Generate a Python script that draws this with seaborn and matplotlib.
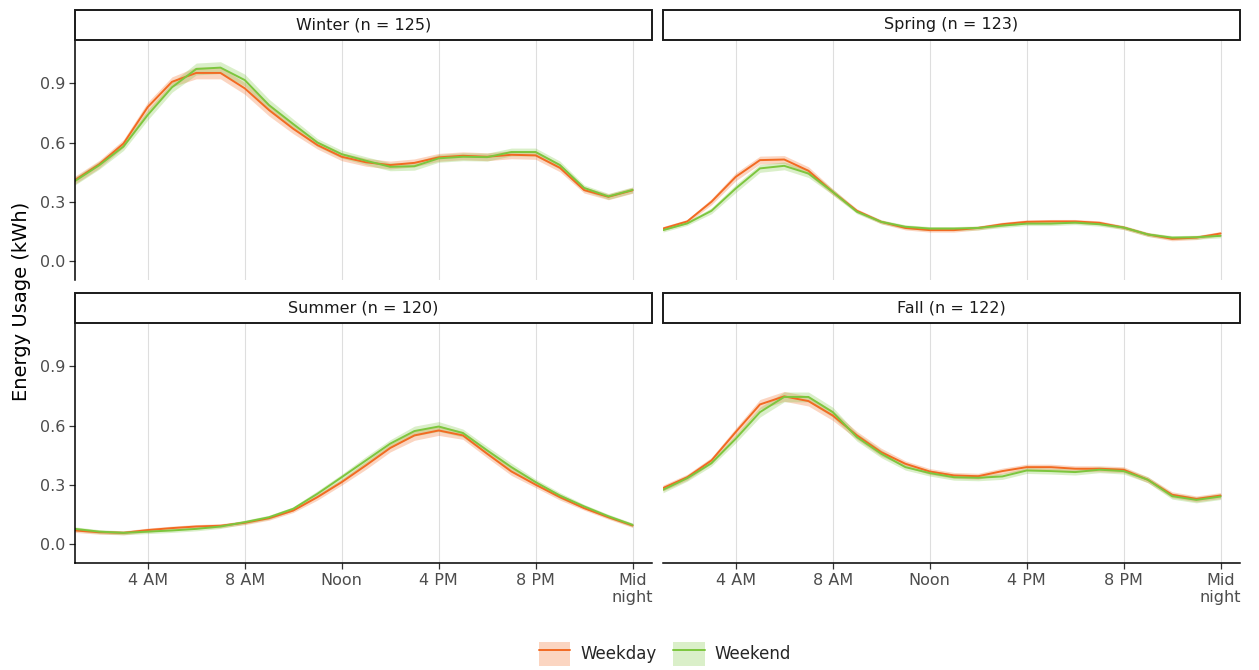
import numpy as np
import pandas as pd
import seaborn as sns
import matplotlib
matplotlib.use("Agg")
import matplotlib.pyplot as plt
from matplotlib.patches import Patch, Rectangle
from matplotlib.lines import Line2D
from matplotlib.legend_handler import HandlerTuple

# ---------------- data ----------------
hours = list(range(1, 25))
seasons = ["Winter", "Spring", "Summer", "Fall"]
season_n = [125, 123, 120, 122]
daytypes = ["Weekday", "Weekend"]

winter_weekday = [0.41, 0.49, 0.595, 0.78, 0.908, 0.953, 0.953, 0.875, 0.765, 0.67, 0.587, 0.528,
                  0.50, 0.486, 0.497, 0.525, 0.533, 0.528, 0.538, 0.535, 0.472, 0.359, 0.325, 0.358]
winter_weekend = [0.405, 0.485, 0.58, 0.74, 0.88, 0.973, 0.98, 0.917, 0.79, 0.694, 0.60, 0.541,
                  0.508, 0.477, 0.48, 0.52, 0.528, 0.526, 0.552, 0.552, 0.486, 0.37, 0.327, 0.36]
spring_weekday = [0.164, 0.20, 0.30, 0.426, 0.511, 0.514, 0.457, 0.35, 0.254, 0.198, 0.167, 0.156,
                  0.156, 0.167, 0.186, 0.198, 0.20, 0.20, 0.193, 0.169, 0.134, 0.112, 0.118, 0.139]
spring_weekend = [0.156, 0.19, 0.254, 0.367, 0.469, 0.482, 0.443, 0.35, 0.249, 0.198, 0.173, 0.164,
                  0.164, 0.167, 0.179, 0.189, 0.189, 0.194, 0.186, 0.169, 0.134, 0.118, 0.12, 0.127]
summer_weekday = [0.068, 0.059, 0.056, 0.07, 0.08, 0.088, 0.092, 0.107, 0.13, 0.169, 0.237, 0.313,
                  0.398, 0.486, 0.55, 0.575, 0.55, 0.457, 0.367, 0.30, 0.237, 0.181, 0.135, 0.093]
summer_weekend = [0.076, 0.062, 0.056, 0.062, 0.068, 0.076, 0.088, 0.11, 0.135, 0.178, 0.254, 0.338,
                  0.423, 0.508, 0.572, 0.595, 0.562, 0.474, 0.389, 0.313, 0.245, 0.19, 0.14, 0.096]
fall_weekday = [0.283, 0.338, 0.423, 0.567, 0.707, 0.748, 0.724, 0.651, 0.55, 0.465, 0.406, 0.367,
                0.347, 0.343, 0.369, 0.389, 0.389, 0.381, 0.381, 0.376, 0.325, 0.249, 0.228, 0.245]
fall_weekend = [0.274, 0.333, 0.409, 0.533, 0.668, 0.745, 0.745, 0.668, 0.541, 0.457, 0.389, 0.359,
                0.338, 0.335, 0.342, 0.372, 0.369, 0.364, 0.376, 0.369, 0.325, 0.242, 0.223, 0.24]

# half-width of the shaded confidence band, per season
winter_band = [0.02, 0.02, 0.02, 0.025, 0.025, 0.03, 0.03, 0.03, 0.03, 0.025, 0.02, 0.02,
               0.02, 0.02, 0.02, 0.02, 0.02, 0.02, 0.02, 0.02, 0.02, 0.015, 0.015, 0.015]
spring_band = [0.01, 0.01, 0.015, 0.02, 0.02, 0.02, 0.02, 0.015, 0.01, 0.01, 0.01, 0.01,
               0.01, 0.01, 0.01, 0.01, 0.01, 0.01, 0.01, 0.01, 0.01, 0.01, 0.01, 0.01]
summer_band = [0.01, 0.01, 0.01, 0.01, 0.01, 0.01, 0.01, 0.01, 0.01, 0.01, 0.015, 0.015,
               0.02, 0.02, 0.025, 0.025, 0.02, 0.02, 0.02, 0.015, 0.015, 0.01, 0.01, 0.01]
fall_band = [0.015, 0.015, 0.015, 0.02, 0.025, 0.025, 0.025, 0.025, 0.02, 0.02, 0.015, 0.015,
             0.015, 0.015, 0.015, 0.015, 0.015, 0.015, 0.015, 0.015, 0.015, 0.015, 0.015, 0.015]

x_ticks = [4, 8, 12, 16, 20, 24]
x_tick_labels = ["4 AM", "8 AM", "Noon", "4 PM", "8 PM", "Mid\nnight"]
y_ticks = [0.0, 0.3, 0.6, 0.9]
y_tick_labels = ["0.0", "0.3", "0.6", "0.9"]

series = {
    ("Winter", "Weekday"): winter_weekday, ("Winter", "Weekend"): winter_weekend,
    ("Spring", "Weekday"): spring_weekday, ("Spring", "Weekend"): spring_weekend,
    ("Summer", "Weekday"): summer_weekday, ("Summer", "Weekend"): summer_weekend,
    ("Fall", "Weekday"): fall_weekday, ("Fall", "Weekend"): fall_weekend,
}
bands = {"Winter": winter_band, "Spring": spring_band, "Summer": summer_band, "Fall": fall_band}

# long table: lower / centre / upper rows for each point (median = centre, 100% interval = band)
rows = []
for (s, d), vals in series.items():
    for h, v, b in zip(hours, vals, bands[s]):
        for val in (v - b, v, v + b):
            rows.append({"season": s, "daytype": d, "hour": h, "kwh": val})
df = pd.DataFrame(rows)

colors = {"Weekday": "#F26A22", "Weekend": "#7CC63E"}

sns.set_theme(style="white")
plt.rcParams["font.family"] = ["DejaVu Sans"]

g = sns.relplot(
    data=df, x="hour", y="kwh", hue="daytype", col="season", col_wrap=2,
    col_order=seasons, hue_order=daytypes, kind="line", estimator="median",
    errorbar=("pi", 100), palette=colors, linewidth=1.4,
    err_kws={"alpha": 0.28, "linewidth": 0}, legend=False,
    height=3, aspect=2,
)
fig = g.figure
fig.set_size_inches(12.59, 6.70)
fig.subplots_adjust(left=75 / 1259, right=1240 / 1259, top=1 - 40 / 670,
                    bottom=1 - 563 / 670, wspace=0.019, hspace=0.179)
g.set_titles("")
g.set_axis_labels("", "")

axes = g.axes.flatten()
for i, (ax, s, n) in enumerate(zip(axes, seasons, season_n)):
    ax.set_xlim(1, 24.8)
    ax.set_ylim(-0.097, 1.12)
    ax.set_xticks(x_ticks)
    ax.set_yticks(y_ticks)
    ax.xaxis.grid(True, color="#DEDEDE", linewidth=0.8)
    ax.yaxis.grid(False)
    ax.set_axisbelow(True)
    for sp in ax.spines.values():
        sp.set_visible(False)
    left_col = (i % 2 == 0)
    bottom_row = (i >= 2)
    if left_col:
        ax.spines["left"].set_visible(True)
        ax.spines["left"].set_color("black")
        ax.spines["left"].set_linewidth(1.1)
        ax.set_yticklabels(y_tick_labels)
        ax.tick_params(axis="y", left=True, length=4, width=0.9, color="#333333",
                       labelsize=11.5, labelcolor="#4D4D4D", pad=3)
    else:
        ax.tick_params(axis="y", left=False, labelleft=False)
    if bottom_row:
        ax.spines["bottom"].set_visible(True)
        ax.spines["bottom"].set_color("black")
        ax.spines["bottom"].set_linewidth(1.1)
        ax.set_xticklabels(x_tick_labels)
        ax.tick_params(axis="x", bottom=True, length=4, width=0.9, color="#333333",
                       labelsize=11.5, labelcolor="#4D4D4D", pad=3, labelbottom=True)
    else:
        ax.tick_params(axis="x", bottom=False, labelbottom=False)
    # strip
    strip_h = 30 / 240
    ax.add_patch(Rectangle((0, 1.0), 1, strip_h, transform=ax.transAxes,
                           facecolor="white", edgecolor="#1A1A1A", linewidth=1.4,
                           clip_on=False, zorder=5))
    ax.text(0.5, 1.0 + strip_h / 2, f"{s} (n = {n})", transform=ax.transAxes,
            ha="center", va="center", fontsize=11.5, color="#1A1A1A", zorder=6)

fig.text(0.017, 1 - 301 / 670, "Energy Usage (kWh)", rotation=90, ha="center",
         va="center", fontsize=14, color="black")

handles = []
for d in daytypes:
    handles.append((Patch(facecolor=colors[d], alpha=0.28, edgecolor="none"),
                    Line2D([], [], color=colors[d], linewidth=1.4)))
fig.legend(handles, daytypes, loc="center", bbox_to_anchor=(665 / 1259, 1 - 654 / 670),
           ncol=2, frameon=False, fontsize=12, handlelength=1.9, handleheight=1.9,
           handler_map={tuple: HandlerTuple(ndivide=1)}, columnspacing=1.0,
           handletextpad=0.6)

fig.savefig("out.png", dpi=100)
